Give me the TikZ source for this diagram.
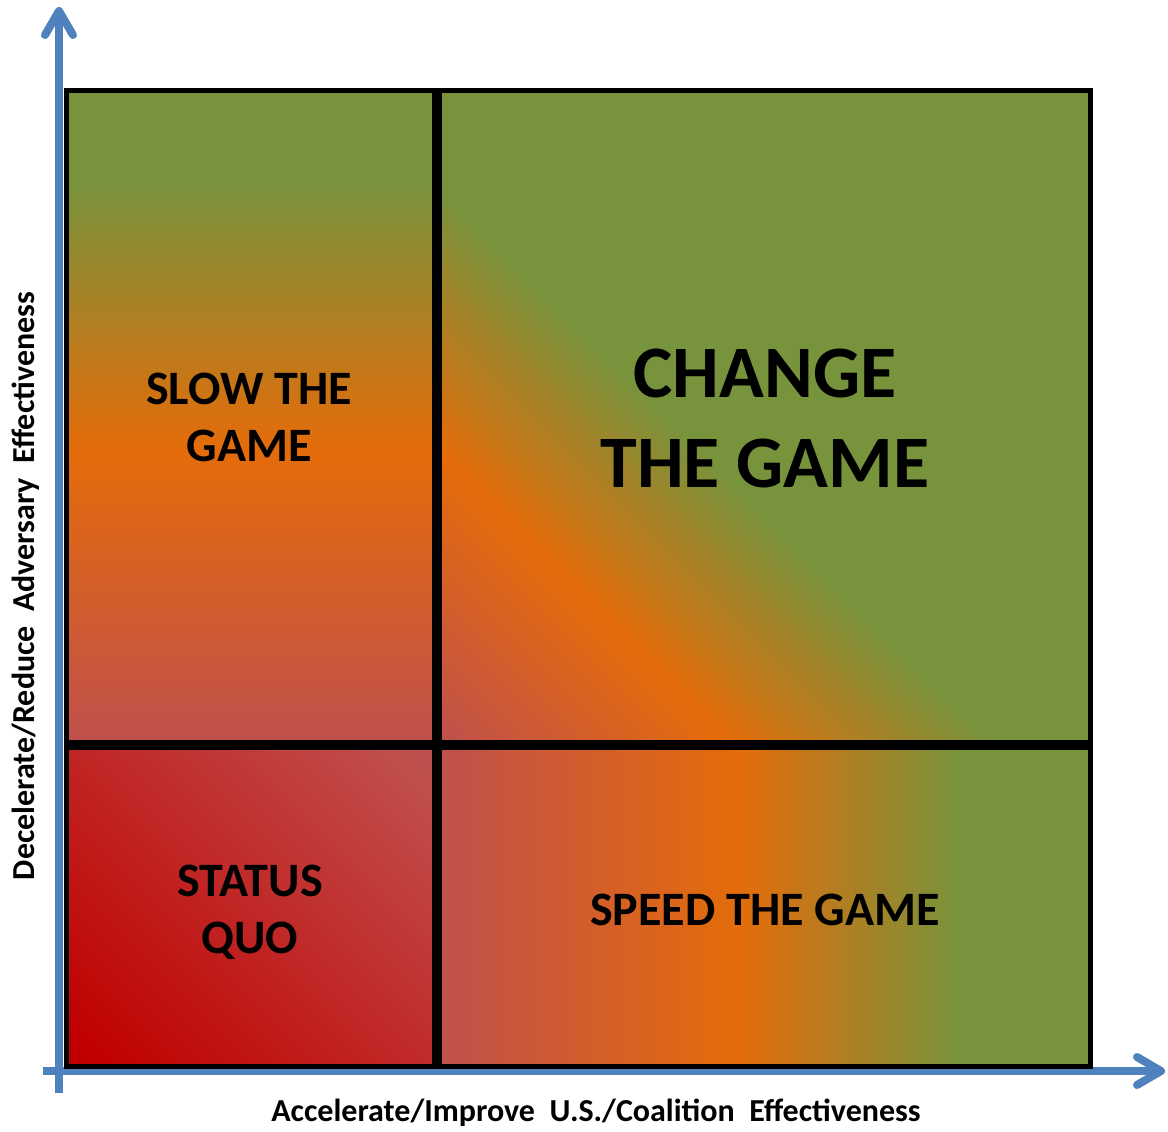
\documentclass[tikz,border=0pt]{standalone}
\usepackage{fontspec}
\setmainfont{Carlito}
\usepackage{xcolor}
\usepackage{tikz}
\usetikzlibrary{arrows.meta}

\definecolor{gamegreen}{HTML}{77933C}
\definecolor{gameorange}{HTML}{E46C0A}
\definecolor{gamered}{HTML}{C0504D}
\definecolor{gamedarkred}{HTML}{C00000}
\definecolor{axisblue}{HTML}{4F81BD}

% Gradients of the four quadrants
\pgfdeclareverticalshading{slowshade}{100bp}{color(0bp)=(gamered); color(25bp)=(gamered); color(47.5bp)=(gameorange); color(68bp)=(gamegreen); color(100bp)=(gamegreen)}
\pgfdeclarehorizontalshading{speedshade}{100bp}{color(0bp)=(gamered); color(25bp)=(gamered); color(48bp)=(gameorange); color(65bp)=(gamegreen); color(100bp)=(gamegreen)}
\pgfdeclarehorizontalshading{changeshade}{100bp}{color(0bp)=(gamered); color(14.7bp)=(gamered); color(30.3bp)=(gameorange); color(44.8bp)=(gamegreen); color(100bp)=(gamegreen)}
\pgfdeclarehorizontalshading{statusshade}{100bp}{color(0bp)=(gamedarkred); color(18bp)=(gamedarkred); color(82bp)=(gamered); color(100bp)=(gamered)}

\tikzset{
    quadrant/.style={draw=black, line width=2.5pt},
    axisline/.style={draw=axisblue, line width=4pt, -{Straight Barb[length=12pt,width=14pt,round]}},
    biglabel/.style={font=\fontsize{37}{45}\selectfont\bfseries, align=center},
    quadlabel/.style={font=\fontsize{24}{28.5}\selectfont\bfseries, align=center},
    axislabel/.style={font=\fontsize{16}{19}\selectfont\bfseries}
}

\begin{document}
\begin{tikzpicture}[x=0.5pt, y=-0.5pt]
    \useasboundingbox (0,0) rectangle (1168,1131);

    % Axes
    \coordinate (ybottom) at (59,1093);
    \coordinate (ytop) at (59,7);
    \coordinate (xleft) at (43,1071);
    \coordinate (xright) at (1165,1071);
    \draw[axisline] (ybottom) -- (ytop);
    \draw[axisline] (xleft) -- (xright);

    % Quadrants
    \shade[shading=slowshade, quadrant] (66.5,90.5) rectangle (434.5,742.5);
    \shade[shading=changeshade, shading angle=45, quadrant] (439.5,90.5) rectangle (1090.5,742.5);
    \shade[shading=statusshade, shading angle=45, quadrant] (66.5,747.5) rectangle (434.5,1066.5);
    \shade[shading=speedshade, quadrant] (439.5,747.5) rectangle (1090.5,1066.5);

    % Quadrant labels
    \node[quadlabel] (slow) at (249,417) {SLOW THE\\GAME};
    \node[biglabel] (change) at (765,418) {CHANGE\\THE GAME};
    \node[quadlabel] (status) at (250,912) {STATUS\\QUO};
    \node[quadlabel] (speed) at (765,910) {SPEED THE GAME};

    % Axis labels
    \node[axislabel] (xlabel) at (596,1113) {Accelerate/Improve\ \ U.S./Coalition\ \ Effectiveness};
    \node[axislabel, rotate=90] (ylabel) at (26,586) {Decelerate/Reduce\ \ Adversary\ \ Effectiveness};
\end{tikzpicture}
\end{document}
